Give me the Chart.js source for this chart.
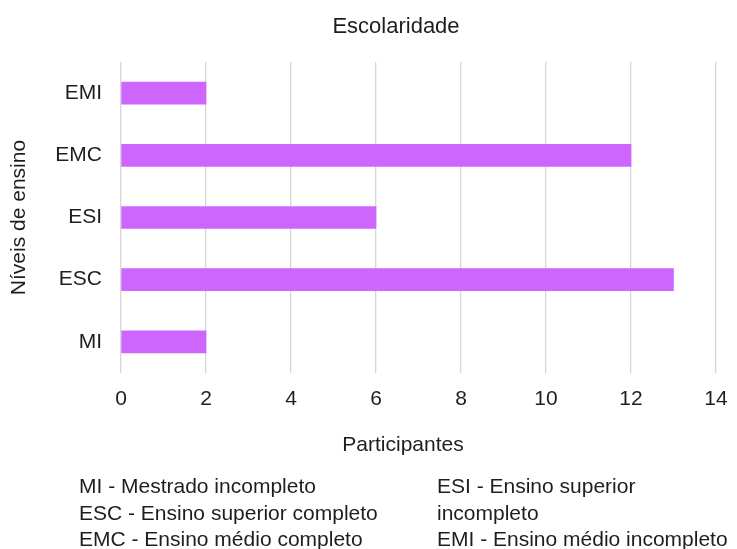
<!DOCTYPE html>
<html>
<head>
<meta charset="utf-8">
<script src="https://cdn.jsdelivr.net/npm/chart.js@4.4.0/dist/chart.umd.min.js"></script>
<style>
  html, body { margin: 0; padding: 0; background: #ffffff; }
  #wrap { position: relative; width: 737px; height: 549px; overflow: hidden; }
  canvas { position: absolute; left: 0; top: 0; }
  .leg { position: absolute; font-family: "Liberation Sans", Arial, sans-serif; font-size: 21px; line-height: 26.5px; color: #1e1e1e; white-space: nowrap; }
</style>
</head>
<body>
<div id="wrap">
  <canvas id="c" width="737" height="549"></canvas>
  <div class="leg" id="legL" style="left:79px; top:473px;"></div>
  <div class="leg" id="legR" style="left:437px; top:473px;"></div>
</div>
<script>
const chartTitle = 'Escolaridade';
const xAxisTitle = 'Participantes';
const yAxisTitle = 'Níveis de ensino';
const categories = ['EMI', 'EMC', 'ESI', 'ESC', 'MI'];
const participantes = [2, 12, 6, 13, 2];
const xMin = 0;
const xMax = 14;
const xStep = 2;
const legendLeft = ['MI - Mestrado incompleto', 'ESC - Ensino superior completo', 'EMC - Ensino médio completo'];
const legendRight = ['ESI - Ensino superior', 'incompleto', 'EMI - Ensino médio incompleto'];

document.getElementById('legL').innerHTML = legendLeft.join('<br>');
document.getElementById('legR').innerHTML = legendRight.join('<br>');

const FONT = '"Liberation Sans", Arial, sans-serif';
const TEXT = '#1e1e1e';
Chart.defaults.font.family = FONT;
Chart.defaults.font.size = 21;
Chart.defaults.color = TEXT;

const textPlugin = {
  id: 'textPlugin',
  afterDraw(chart) {
    const ctx = chart.ctx;
    ctx.save();
    ctx.fillStyle = TEXT;
    ctx.textAlign = 'center';
    ctx.textBaseline = 'alphabetic';
    ctx.font = '22px ' + FONT;
    ctx.fillText(chartTitle, 396, 33);
    ctx.font = '21px ' + FONT;
    ctx.fillText(xAxisTitle, 403, 451);
    ctx.restore();
  }
};

new Chart(document.getElementById('c'), {
  type: 'bar',
  data: {
    labels: categories,
    datasets: [{
      label: xAxisTitle,
      data: participantes,
      backgroundColor: '#cc66ff',
      borderWidth: 0,
      barThickness: 22
    }]
  },
  options: {
    indexAxis: 'y',
    responsive: false,
    animation: false,
    layout: { padding: { top: 62, right: 21, left: 0, bottom: 136 } },
    plugins: {
      legend: { display: false },
      title: { display: false },
      tooltip: { enabled: false }
    },
    scales: {
      x: {
        min: xMin,
        max: xMax,
        ticks: { stepSize: xStep, padding: 14, color: TEXT, font: { size: 21 } },
        grid: { display: true, color: '#d6d6d6', lineWidth: 1.3, drawTicks: false },
        border: { display: false },
        afterFit(scale) { scale.height = 40; scale.paddingRight = 0; scale.paddingLeft = 0; }
      },
      y: {
        ticks: { padding: 19, color: TEXT, font: { size: 21 } },
        grid: { display: false, drawTicks: false },
        border: { display: false },
        title: { display: true, text: yAxisTitle, color: TEXT, font: { size: 21 }, padding: { top: 7, bottom: 0 } },
        afterFit(scale) { scale.width = 121; scale.paddingTop = 0; scale.paddingBottom = 0; }
      }
    }
  },
  plugins: [textPlugin]
});
</script>
</body>
</html>
